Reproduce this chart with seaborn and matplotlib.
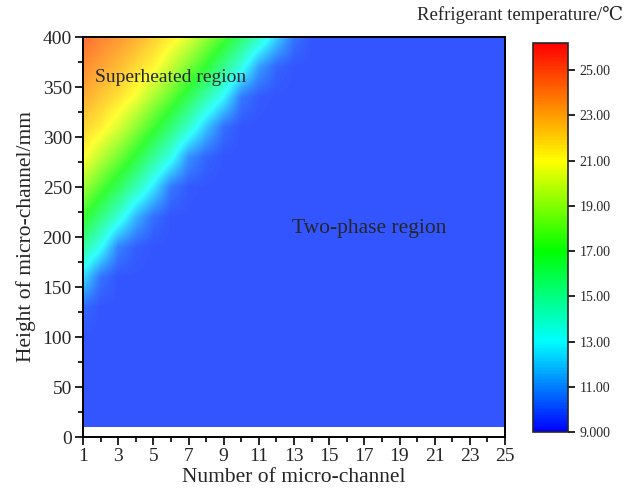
import numpy as np
import pandas as pd
import matplotlib
matplotlib.use("Agg")
import matplotlib.pyplot as plt
from matplotlib.colors import LinearSegmentedColormap, to_rgb
from matplotlib.patches import Rectangle
import seaborn as sns

# --- data ---
channels = list(range(1, 26))
heights = [10, 40, 70, 100, 130, 160, 190, 220, 250, 280, 310, 340, 370, 400]
SAT = 9.7  # two-phase (saturated) temperature shown in blue
# refrigerant temperature (°C) per height row, columns = channels 1..25
T_10  = [SAT] * 25
T_40  = [SAT] * 25
T_70  = [SAT] * 25
T_100 = [SAT] * 25
T_130 = [10.1] + [SAT] * 24
T_160 = [12.4, 10.3] + [SAT] * 23
T_190 = [14.9, 13.2, 10.6, 9.9] + [SAT] * 21
T_220 = [17.2, 15.5, 13.8, 11.6, 10.2] + [SAT] * 20
T_250 = [19.2, 17.7, 16.2, 14.5, 12.6, 10.4, 9.8] + [SAT] * 18
T_280 = [21.1, 19.7, 18.3, 16.8, 15.1, 13.4, 10.9, 10.0] + [SAT] * 17
T_310 = [22.1, 21.4, 20.3, 18.8, 17.3, 15.7, 14.0, 11.9, 10.2] + [SAT] * 16
T_340 = [23.1, 22.4, 21.7, 20.8, 19.3, 17.9, 16.3, 14.6, 12.9, 10.4, 9.8] + [SAT] * 14
T_370 = [23.9, 23.3, 22.7, 21.9, 21.2, 19.9, 18.4, 16.9, 15.2, 13.5, 11.1, 10.0] + [SAT] * 13
T_400 = [24.7, 24.1, 23.6, 23.0, 22.2, 21.4, 20.4, 18.9, 17.5, 15.8, 14.2, 12.1, 10.3] + [SAT] * 12

x_ticks = [1, 3, 5, 7, 9, 11, 13, 15, 17, 19, 21, 23, 25]
y_ticks = [0, 50, 100, 150, 200, 250, 300, 350, 400]
cbar_ticks = [9, 11, 13, 15, 17, 19, 21, 23, 25]
cbar_labels = ["9.000", "11.00", "13.00", "15.00", "17.00", "19.00", "21.00", "23.00", "25.00"]
vmin, vmax = 9.0, 26.2

df = pd.DataFrame([T_10, T_40, T_70, T_100, T_130, T_160, T_190, T_220,
                   T_250, T_280, T_310, T_340, T_370, T_400],
                  index=heights, columns=channels)

sns.set_theme(style="ticks")
plt.rcParams["font.family"] = ["Liberation Serif", "DejaVu Serif"]

anchors = [(9.0, "#0000ff"), (13.0, "#00ffff"), (17.0, "#00ff00"),
           (21.0, "#ffff00"), (26.2, "#ff0000")]
pos = [(v - vmin) / (vmax - vmin) for v, _ in anchors]
cmap = LinearSegmentedColormap.from_list("temp", list(zip(pos, [c for _, c in anchors])))
# the plot area is drawn slightly washed out (80 % colour over white)
soft = [tuple(0.8 * np.array(to_rgb(c)) + 0.2) for _, c in anchors]
cmap_soft = LinearSegmentedColormap.from_list("temp_soft", list(zip(pos, soft)))

fig = plt.figure(figsize=(6.25, 4.93), dpi=100)
ax = fig.add_axes([83 / 625, 56 / 493, 422 / 625, 400 / 493])
cax = fig.add_axes([533 / 625, 61 / 493, 35 / 625, 389 / 493])

xs = df.columns.values.astype(float)
ys = df.index.values.astype(float)
dx = xs[1] - xs[0]
dy = ys[1] - ys[0]
im = ax.imshow(df.values, origin="lower", cmap=cmap_soft, vmin=vmin, vmax=vmax,
               interpolation="bilinear", interpolation_stage="data", aspect="auto",
               extent=[xs[0] - dx / 2, xs[-1] + dx / 2, ys[0] - dy / 2, ys[-1] + dy / 2])
clip = Rectangle((xs[0], ys[0]), xs[-1] - xs[0], ys[-1] - ys[0],
                 transform=ax.transData, facecolor="none", edgecolor="none")
ax.add_patch(clip)
im.set_clip_path(clip)

ax.set_xlim(1, 25)
ax.set_ylim(0, 400)
ax.set_xticks(x_ticks)
ax.set_xticks(np.arange(2, 25, 2), minor=True)
ax.set_yticks(y_ticks)
ax.set_yticks(np.arange(25, 400, 50), minor=True)
ax.tick_params(axis="both", which="major", direction="out", length=6, width=1.2,
               labelsize=14, color="black", pad=2)
ax.tick_params(axis="both", which="minor", direction="out", length=3.5, width=1.2,
               color="black")
for s in ax.spines.values():
    s.set_linewidth(1.4)
    s.set_color("black")
ax.set_xlabel("Number of micro-channel", fontsize=15.5, labelpad=2)
ax.set_ylabel("Height of micro-channel/mm", fontsize=15.5, labelpad=5)

ax.text(1.68, 359, "Superheated region", fontsize=14, ha="left", va="center")
ax.text(17.3, 208, "Two-phase region", fontsize=15.5, ha="center", va="center")

# colorbar
cb = fig.colorbar(plt.cm.ScalarMappable(norm=plt.Normalize(vmin, vmax), cmap=cmap),
                  cax=cax)
cb.set_ticks(cbar_ticks)
cb.set_ticklabels(cbar_labels)
cb.outline.set_linewidth(1.2)
cax.tick_params(direction="out", length=5, width=1.2, labelsize=10, color="black")
fig.text(1 - 0.003, 1 - 15 / 493, "Refrigerant temperature/℃",
         fontsize=13.5, ha="right", va="center",
         family=["Liberation Serif", "DejaVu Serif"])

fig.savefig("out.png", dpi=100)
